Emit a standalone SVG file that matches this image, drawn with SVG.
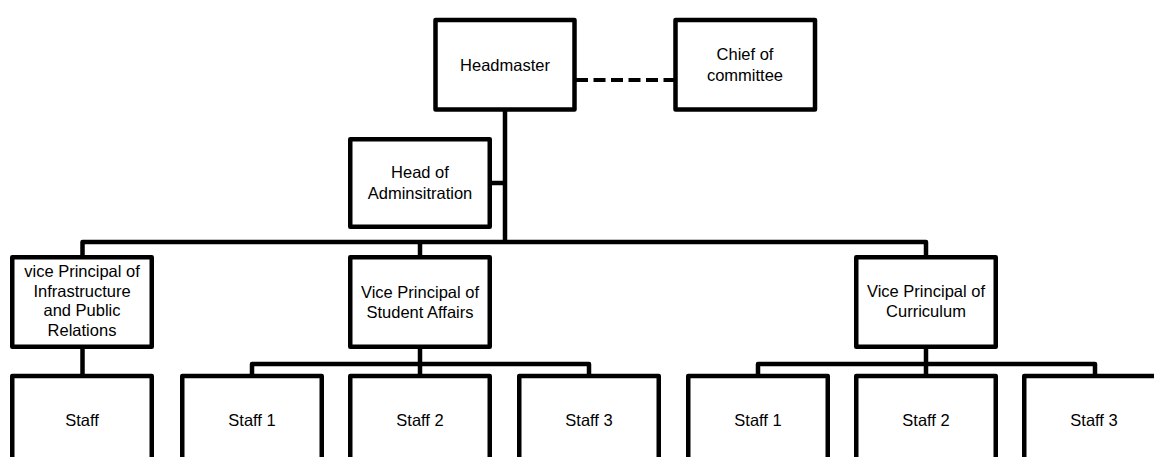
<svg xmlns="http://www.w3.org/2000/svg" width="1154" height="457" viewBox="0 0 1154 457">
<style>
.box{fill:#fff;stroke:#000;stroke-width:4.5;stroke-linejoin:round}
.ln{fill:none;stroke:#000;stroke-width:4.5;stroke-linejoin:round}
.dash{fill:none;stroke:#000;stroke-width:4;stroke-dasharray:12 5.5}
text{font-family:"Liberation Sans",Arial,sans-serif;font-size:16.5px;fill:#000;text-anchor:middle}
</style>
<rect width="1154" height="457" fill="#fff"/>
<g id="connectors">
<line class="dash" x1="576" y1="80" x2="674" y2="80"/>
<polyline class="ln" points="505,111 505,242"/>
<polyline class="ln" points="491,183 505,183"/>
<polyline class="ln" points="82.5,256 82.5,242 926,242 926,256"/>
<polyline class="ln" points="420,242 420,256"/>
<polyline class="ln" points="82.5,348 82.5,375"/>
<polyline class="ln" points="420,348 420,364"/>
<polyline class="ln" points="252,375 252,364 589,364 589,375"/>
<polyline class="ln" points="420,364 420,375"/>
<polyline class="ln" points="926,348 926,364"/>
<polyline class="ln" points="758,375 758,364 1095,364 1095,375"/>
<polyline class="ln" points="926,364 926,375"/>
</g>
<g id="headmaster"><rect class="box" x="435.5" y="20" width="139" height="89.5"/><text x="505" y="71">Headmaster</text></g>
<g id="chief"><rect class="box" x="675.5" y="20" width="139.5" height="89.5"/><text x="745" y="60">Chief of</text><text x="745" y="81">committee</text></g>
<g id="admin"><rect class="box" x="350.25" y="139.25" width="139.5" height="87.5"/><text x="420" y="178">Head of</text><text x="420" y="199">Adminsitration</text></g>
<g id="vp-infra"><rect class="box" x="12.25" y="257.25" width="139.5" height="89.5"/><text x="82" y="277">vice Principal of</text><text x="82" y="296.7">Infrastructure</text><text x="82" y="316.4">and Public</text><text x="82" y="336">Relations</text></g>
<g id="vp-student"><rect class="box" x="350.25" y="257.25" width="139.5" height="89.5"/><text x="420" y="298">Vice Principal of</text><text x="420" y="318">Student Affairs</text></g>
<g id="vp-curriculum"><rect class="box" x="856.25" y="257.25" width="139.5" height="89.5"/><text x="926" y="297">Vice Principal of</text><text x="926" y="317">Curriculum</text></g>
<g id="staff"><rect class="box" x="12.25" y="376" width="139.5" height="120"/><text x="82" y="426">Staff</text></g>
<g id="sa-staff1"><rect class="box" x="182.25" y="376" width="139.5" height="120"/><text x="252" y="426">Staff 1</text></g>
<g id="sa-staff2"><rect class="box" x="350.25" y="376" width="139.5" height="120"/><text x="420" y="426">Staff 2</text></g>
<g id="sa-staff3"><rect class="box" x="519.25" y="376" width="139.5" height="120"/><text x="589" y="426">Staff 3</text></g>
<g id="cu-staff1"><rect class="box" x="688.25" y="376" width="139.5" height="120"/><text x="758" y="426">Staff 1</text></g>
<g id="cu-staff2"><rect class="box" x="856.25" y="376" width="139.5" height="120"/><text x="926" y="426">Staff 2</text></g>
<g id="cu-staff3"><rect class="box" x="1024.25" y="376" width="139.5" height="120"/><text x="1094" y="426">Staff 3</text></g>
</svg>
